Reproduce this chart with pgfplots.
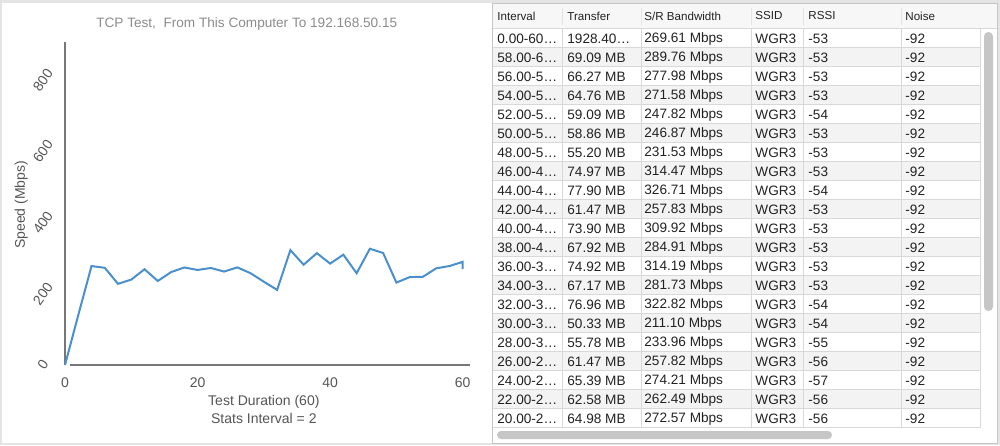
\documentclass[border=0pt]{standalone}
\usepackage{fontspec}
\setmainfont{Liberation Sans}
\usepackage{pgfplots}
\pgfplotsset{compat=1.18}

\definecolor{chartblue}{HTML}{4A90CD}
\definecolor{axisgray}{HTML}{777777}
\definecolor{labelgray}{HTML}{555555}
\definecolor{titlegray}{HTML}{8C8C8C}
\definecolor{framegray}{HTML}{E4E4E4}
\definecolor{gridline}{HTML}{D8D8D8}
\definecolor{rowgray}{HTML}{F3F3F3}
\definecolor{thumbgray}{HTML}{C6C6C6}
\definecolor{tabtext}{HTML}{222222}

\begin{document}
\begin{tikzpicture}
  % screen pixels: 1px = 0.5pt, y downwards
  \begin{scope}[x=0.5pt,y=-0.5pt]
    \fill[framegray] (0,0) rectangle (1000,445);
    \fill[white] (2,3) rectangle (998,443);

    % table panel
    \fill[rowgray!70] (493,3.5) rectangle (996.5,27.5);
    \foreach \i in {1,3,...,19}
      \fill[rowgray] (493,28.5+19*\i) rectangle (980.5,47.5+19*\i);
    \foreach \i in {1,...,21}
      \draw[gridline,line width=0.5pt] (493,28.5+19*\i) -- (980.5,28.5+19*\i);
    \draw[gridline,line width=0.5pt] (493,28) -- (996.5,28);
    \foreach \x in {562,641,751,803,901} {
      \draw[gridline!70,line width=0.5pt] (\x,8) -- (\x,25);
      \draw[gridline,line width=0.5pt] (\x,28.5) -- (\x,427.5);
    }
    \draw[gridline,line width=0.5pt] (980.5,28.5) -- (980.5,427.5);
    \draw[gray!45,line width=0.5pt] (492.5,3) rectangle (997,443);
    \fill[thumbgray,rounded corners=2.2pt] (984,32) rectangle (993,311);
    \fill[thumbgray,rounded corners=2pt] (497,431) rectangle (832,439);

    \begin{scope}[every node/.style={anchor=west,inner sep=0pt,text=tabtext,
        font=\fontsize{5.8}{7}\selectfont}]
      \node at (497,16) {Interval};
      \node at (567,16) {Transfer};
      \node at (644,16) {S/R Bandwidth};
      \node at (755,16) {SSID};
      \node at (808,16) {RSSI};
      \node at (905,16) {Noise};
    \end{scope}

    \begin{scope}[every node/.style={anchor=west,inner sep=0pt,text=tabtext,
        font=\fontsize{6.8}{8}\selectfont}]
      \foreach \i/\a/\b/\c/\d in {
        0/0.00-60…/1928.40…/269.61/-53,
        1/58.00-6…/69.09 MB/289.76/-53,
        2/56.00-5…/66.27 MB/277.98/-53,
        3/54.00-5…/64.76 MB/271.58/-53,
        4/52.00-5…/59.09 MB/247.82/-54,
        5/50.00-5…/58.86 MB/246.87/-53,
        6/48.00-5…/55.20 MB/231.53/-53,
        7/46.00-4…/74.97 MB/314.47/-53,
        8/44.00-4…/77.90 MB/326.71/-54,
        9/42.00-4…/61.47 MB/257.83/-53,
        10/40.00-4…/73.90 MB/309.92/-53,
        11/38.00-4…/67.92 MB/284.91/-53,
        12/36.00-3…/74.92 MB/314.19/-53,
        13/34.00-3…/67.17 MB/281.73/-53,
        14/32.00-3…/76.96 MB/322.82/-54,
        15/30.00-3…/50.33 MB/211.10/-54,
        16/28.00-3…/55.78 MB/233.96/-55,
        17/26.00-2…/61.47 MB/257.82/-56,
        18/24.00-2…/65.39 MB/274.21/-57,
        19/22.00-2…/62.58 MB/262.49/-56,
        20/20.00-2…/64.98 MB/272.57/-56} {
        \node at (497,38.5+19*\i) {\a};
        \node at (567,38.5+19*\i) {\b};
        \node at (644,38.5+19*\i) {\c\ Mbps};
        \node at (755,38.5+19*\i) {WGR3};
        \node at (808,38.5+19*\i) {\d};
        \node at (905,38.5+19*\i) {-92};
      }
    \end{scope}
  \end{scope}

  \begin{axis}[
    at={(32.5pt,-182.5pt)}, anchor=south west,
    scale only axis, width=198.85pt, height=160.2pt,
    xmin=0, xmax=60, ymin=0, ymax=900,
    axis lines=left, axis line style={draw=none,-},
    xtick={0,20,40,60}, ytick={0,200,400,600,800},
    major tick length=0pt,
    tick label style={font=\fontsize{7}{8}\selectfont, text=labelgray},
    /pgf/number format/assume math mode=true,
    xticklabel style={anchor=center, yshift=-9pt},
    yticklabel style={anchor=center, xshift=-11pt, rotate=55},
    xlabel={Test Duration (60)\\Stats Interval = 2},
    xlabel style={at={(axis description cs:0.5,-0.14)}, anchor=center,
      align=center, font=\fontsize{7}{9}\selectfont, text=labelgray},
    ylabel={Speed (Mbps)},
    ylabel style={at={(axis description cs:-0.11,0.5)}, anchor=center,
      font=\fontsize{7}{8}\selectfont, text=labelgray},
    title={TCP Test,\ \ From This Computer To 192.168.50.15},
    title style={at={(axis description cs:0.457,1.027)}, anchor=center,
      font=\fontsize{6.8}{8}\selectfont, text=titlegray},
    clip=false,
  ]
    \draw[axisgray, line width=0.75pt] (axis cs:0,0) -- (axis cs:0,906);
    \draw[axisgray, line width=0.75pt] (axis cs:0.75,0) -- (axis cs:61.1,0);
    \addplot[chartblue, line width=1pt, mark=none] coordinates {
      (0,0) (2,140) (4,278) (6,273) (8,228) (10,240) (12,269) (14,236)
      (16,261) (18,274) (20,267) (22,272.57) (24,262.49) (26,274.21)
      (28,257.82) (30,233.96) (32,211.10) (34,322.82) (36,281.73)
      (38,314.19) (40,284.91) (42,309.92) (44,257.83) (46,326.71)
      (48,314.47) (50,231.53) (52,246.87) (54,247.82) (56,271.58)
      (58,277.98) (60,289.76) (60,269.61)
    };
  \end{axis}

  \pgfresetboundingbox
  \useasboundingbox (0,0) rectangle (500pt,-222.5pt);
\end{tikzpicture}
\end{document}
